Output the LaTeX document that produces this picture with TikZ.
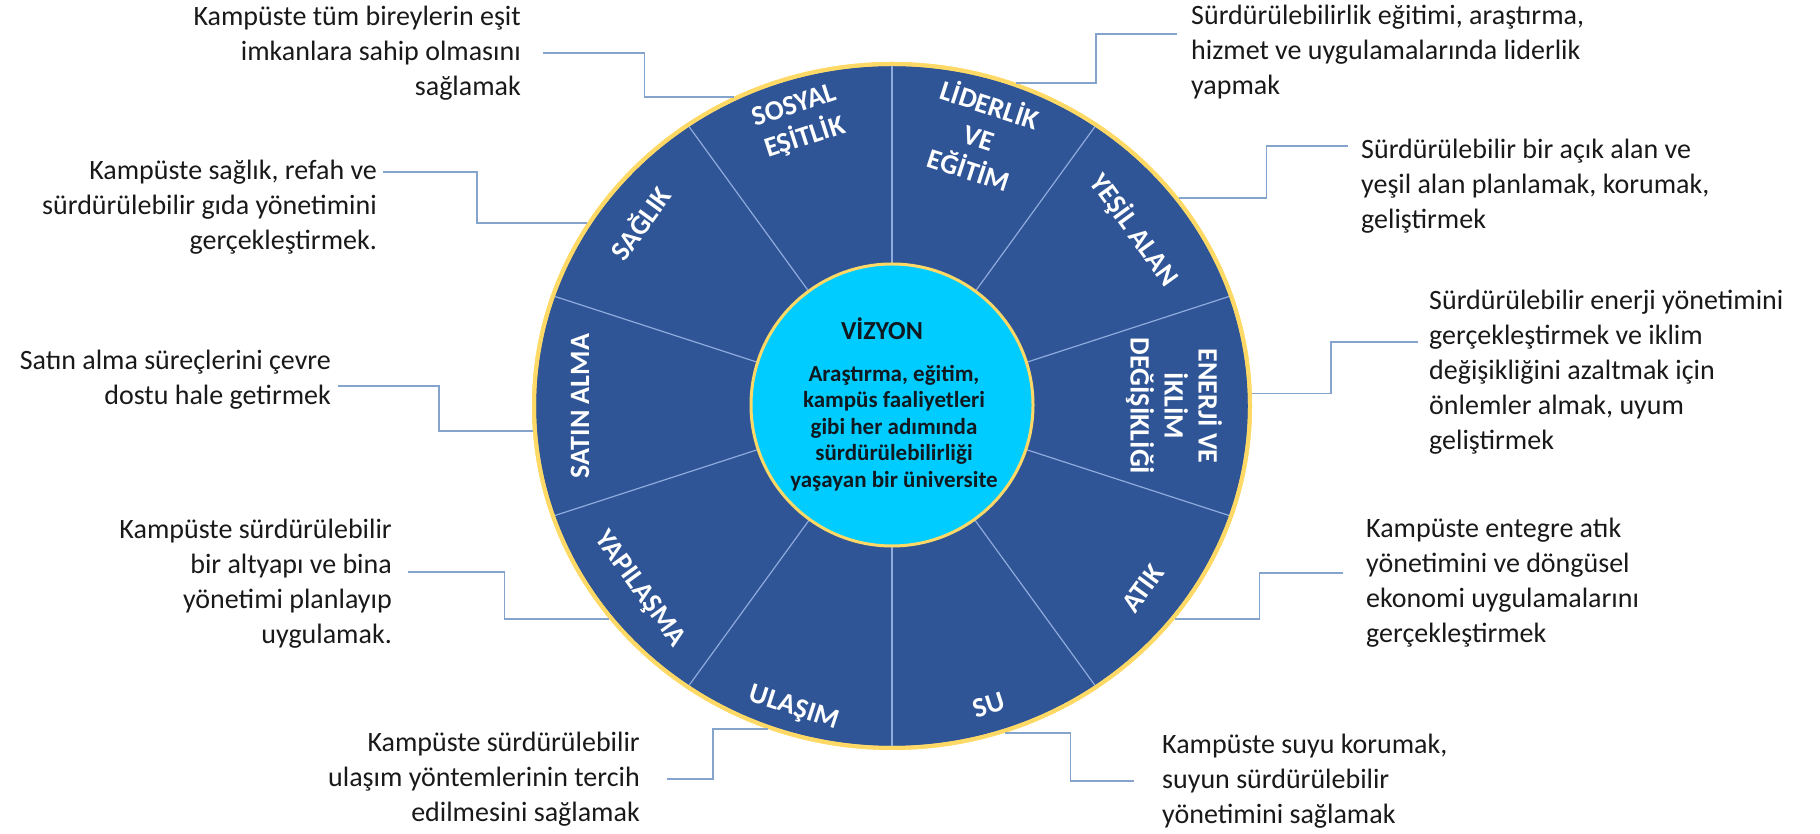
\documentclass[tikz,border=0pt]{standalone}
\usepackage{fontspec}
\setmainfont{Carlito}
\usepackage{tikz}
\usetikzlibrary{shapes}
\usetikzlibrary{calc}
\usetikzlibrary{positioning}
\definecolor{wheelblue}{RGB}{47,85,151}
\definecolor{rimgold}{RGB}{255,217,102}
\definecolor{coreblue}{RGB}{0,204,255}
\definecolor{spokeblue}{RGB}{143,170,220}
\definecolor{leader}{RGB}{132,164,206}
\definecolor{notetext}{RGB}{25,25,25}
\definecolor{coretext}{RGB}{16,24,32}
\tikzstyle{note}=[font=\fontsize{28}{35}\selectfont, text=notetext, inner sep=0pt]
\tikzstyle{notel}=[note, anchor=west, align=left]
\tikzstyle{noter}=[note, anchor=east, align=right]
\tikzstyle{lead}=[draw=leader, line width=1.6pt]
\tikzstyle{spoke}=[draw=spokeblue, line width=1.2pt]
\tikzstyle{seg}=[text=white, font=\bfseries\fontsize{28}{34}\selectfont, align=center, inner sep=0pt]

\begin{document}
\begin{tikzpicture}[x=1pt, y=1pt]
\useasboundingbox (0,0) rectangle (1820,834);

% wheel
\node[ellipse, fill=wheelblue, draw=rimgold, line width=4pt, minimum width=716pt,
minimum height=684pt, inner sep=0pt] (wheel) at (892,428) {};
\foreach \a in {18,54,...,342}
  \draw[spoke] (wheel.center) -- (wheel.\a);
\draw[rimgold, line width=4pt] (wheel.center) ellipse [x radius=358pt, y radius=342pt];
\node[circle, fill=coreblue, draw=rimgold, line width=3pt, minimum size=282pt,
inner sep=0pt] (core) at (892,429) {};

\node[text=coretext, font=\bfseries\fontsize{26}{30}\selectfont, inner sep=0pt] (vizyon)
at (882,505) {VİZYON};
\node[text=coretext, font=\bfseries\fontsize{23}{26.5}\selectfont, align=center,
inner sep=0pt] (vision) at (894,406) {Araştırma, eğitim,\\kampüs faaliyetleri\\gibi her
adımında\\sürdürülebilirliği\\yaşayan bir üniversite};

% segment labels
\node[seg, rotate=18] (sosyal) at ($(wheel.center)+(108:298)$) {SOSYAL\\EŞİTLİK};
\node[seg, rotate=-18] (lider) at ($(wheel.center)+(72:284)$) {LİDERLİK\\VE\\EĞİTİM};
\node[seg, rotate=-54] (yesil) at ($(wheel.center)+(36:300)$) {YEŞİL ALAN};
\node[seg, rotate=-90] (enerji) at ($(wheel.center)+(0:282)$)
{ENERJİ VE\\İKLİM\\DEĞİŞİKLİĞİ};
\node[seg, rotate=54] (atik) at ($(wheel.center)+(-36:310)$) {ATIK};
\node[seg, rotate=18] (su) at ($(wheel.center)+(-72:314)$) {SU};
\node[seg, rotate=-18] (ulasim) at ($(wheel.center)+(-108:318)$) {ULAŞIM};
\node[seg, rotate=-54] (yapi) at ($(wheel.center)+(-144:312)$) {YAPILAŞMA};
\node[seg, rotate=90] (satin) at ($(wheel.center)+(180:312)$) {SATIN ALMA};
\node[seg, rotate=54] (saglik) at ($(wheel.center)+(144:312)$) {SAĞLIK};

% notes
\node[noter] (t1) at (521,781) {Kampüste tüm bireylerin eşit\\imkanlara sahip
olmasını\\sağlamak};
\node[noter] (t2) at (377,627) {Kampüste sağlık, refah ve\\sürdürülebilir gıda
yönetimini\\gerçekleştirmek.};
\node[noter] (t3) at (331,454) {Satın alma süreçlerini çevre\\dostu hale getirmek};
\node[noter] (t4) at (392,250) {Kampüste sürdürülebilir\\bir altyapı ve bina\\yönetimi
planlayıp\\uygulamak.};
\node[noter] (t5) at (640,55) {Kampüste sürdürülebilir\\ulaşım yöntemlerinin
tercih\\edilmesini sağlamak};
\node[notel] (t6) at (1162,53) {Kampüste suyu korumak,\\suyun sürdürülebilir\\yönetimini
sağlamak};
\node[notel] (t7) at (1366,251) {Kampüste entegre atık\\yönetimini ve döngüsel\\ekonomi
uygulamalarını\\gerçekleştirmek};
\node[notel] (t8) at (1429,462) {Sürdürülebilir enerji yönetimini\\gerçekleştirmek ve
iklim\\değişikliğini azaltmak için\\önlemler almak, uyum\\geliştirmek};
\node[notel] (t9) at (1361,648) {Sürdürülebilir bir açık alan ve\\yeşil alan planlamak,
korumak,\\geliştirmek};
\node[notel] (t10) at (1191,782) {Sürdürülebilirlik eğitimi, araştırma,\\hizmet ve
uygulamalarında liderlik\\yapmak};

% leaders
\draw[lead] ([xshift=22]t1.east) -| ($(wheel.117)+(-90,0)$) -- (wheel.117);
\draw[lead] ([shift={(6,35)}]t2.east) -| ($(wheel.149)+(-110,0)$) -- (wheel.149);
\draw[lead] ([shift={(7,-6)}]t3.east) -| ($(wheel.184.5)+(-94,0)$) -- (wheel.184.5);
\draw[lead] ([shift={(16,12)}]t4.east) -| ($(wheel.217.6)+(-105,0)$) -- (wheel.217.6);
\draw[lead] ([xshift=27]t5.east) -| ($(wheel.249.5)+(-55,0)$) -- (wheel.249.5);
\draw[lead] ([xshift=-28]t6.west) -| ($(wheel.-71.8)+(66,0)$) -- (wheel.-71.8);
\draw[lead] ([shift={(-23,10)}]t7.west) -| ($(wheel.-37.6)+(85,0)$) -- (wheel.-37.6);
\draw[lead] ([shift={(-11,30)}]t8.west) -| ($(wheel.2.2)+(79,0)$) -- (wheel.2.2);
\draw[lead] ([shift={(-13,40)}]t9.west) -| ($(wheel.36.4)+(88,0)$) -- (wheel.36.4);
\draw[lead] ([shift={(-14,18)}]t10.west) -| ($(wheel.69.5)+(80,0)$) -- (wheel.69.5);
\end{tikzpicture}
\end{document}
